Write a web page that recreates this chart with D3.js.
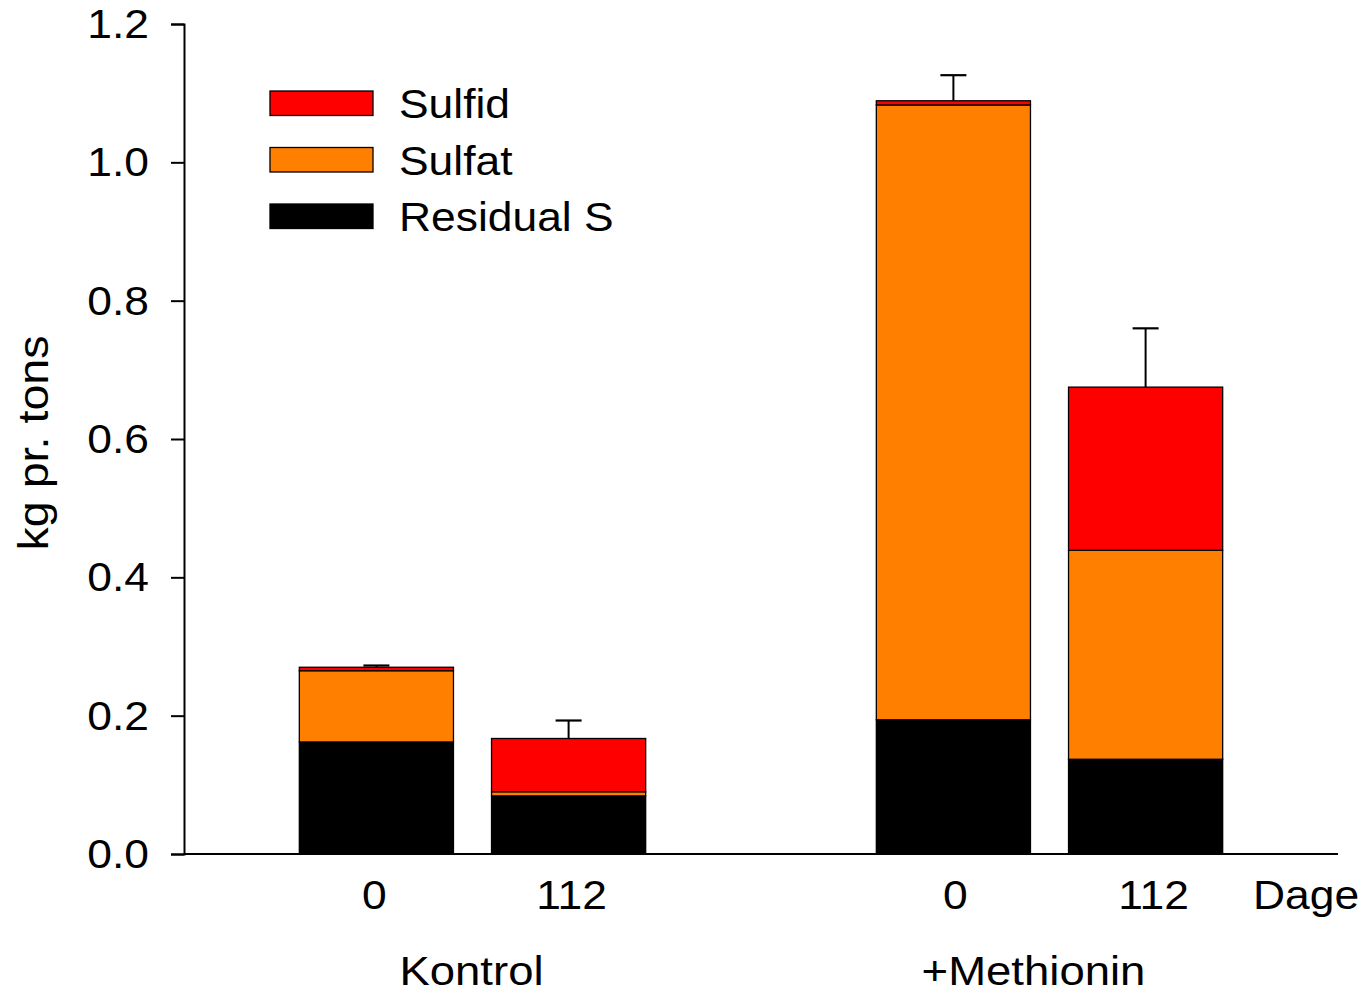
<!DOCTYPE html>
<html>
<head>
<meta charset="utf-8">
<script src="https://cdn.jsdelivr.net/npm/d3@7"></script>
<style>
  html, body { margin: 0; padding: 0; background: #fff; }
  svg { display: block; font-family: "Liberation Sans", Arial, sans-serif; }
</style>
</head>
<body>
<svg id="chart" width="1367" height="993"></svg>
<script>
// ---- data ----
const groups = ["Kontrol", "+Methionin"];
const days = ["0", "112"];
const seriesNames = ["Residual S", "Sulfat", "Sulfid"];
const seriesColors = ["#000000", "#ff8000", "#ff0000"];
// values per bar in order: Kontrol-0, Kontrol-112, Methionin-0, Methionin-112
const residualS = [0.162, 0.084, 0.194, 0.137];
const sulfat    = [0.103, 0.006, 0.889, 0.302];
const sulfid    = [0.005, 0.077, 0.006, 0.236];
const errUpper  = [0.0025, 0.026, 0.037, 0.085];
const yTicks = [0.0, 0.2, 0.4, 0.6, 0.8, 1.0, 1.2];
const legendOrder = ["Sulfid", "Sulfat", "Residual S"];

const bars = [];
groups.forEach((g, gi) => days.forEach((d, di) => {
  const i = gi * days.length + di;
  bars.push({group: g, day: d, vals: [residualS[i], sulfat[i], sulfid[i]], err: errUpper[i]});
}));

const svg = d3.select("#chart");
const x0 = 184, x1 = 1338, yTop = 24, yBot = 854;
const SX = 1.11; // horizontal stretch of the reference's lettering

function addText(x, y, str, size, anchor, rot) {
  return svg.append("text")
    .attr("transform", `translate(${x},${y})` + (rot ? ` rotate(${rot})` : "") + ` scale(${SX},1)`)
    .attr("font-size", size).attr("fill", "#000")
    .attr("text-anchor", anchor || "start")
    .text(str);
}

const y = d3.scaleLinear().domain([0, 1.2]).range([yBot, yTop]);
const xGroup = d3.scaleBand().domain(groups).range([x0, x1]).paddingInner(0).paddingOuter(0);
const xDay = d3.scaleBand().domain(days).range([0, xGroup.bandwidth()]).paddingInner(0.198).paddingOuter(0.6);

// bars
bars.forEach(b => {
  const bx = xGroup(b.group) + xDay(b.day);
  const bw = xDay.bandwidth();
  let cum = 0;
  b.vals.forEach((v, si) => {
    svg.append("rect")
      .attr("x", bx).attr("width", bw)
      .attr("y", y(cum + v)).attr("height", y(cum) - y(cum + v))
      .attr("fill", seriesColors[si])
      .attr("stroke", "#000").attr("stroke-width", 1.3);
    cum += v;
  });
  const cx = bx + bw / 2;
  svg.append("line").attr("x1", cx).attr("x2", cx)
    .attr("y1", y(cum)).attr("y2", y(cum + b.err))
    .attr("stroke", "#000").attr("stroke-width", 2);
  svg.append("line").attr("x1", cx - 13).attr("x2", cx + 13)
    .attr("y1", y(cum + b.err)).attr("y2", y(cum + b.err))
    .attr("stroke", "#000").attr("stroke-width", 2.2);
});

// y axis
const yAxis = d3.axisLeft(y).tickValues(yTicks).tickFormat("").tickSize(13);
const gy = svg.append("g").attr("transform", `translate(${x0},0)`).call(yAxis);
gy.select(".domain").attr("stroke", "#000").attr("stroke-width", 2);
gy.selectAll(".tick line").attr("stroke", "#000").attr("stroke-width", 2);
const fmt = d3.format(".1f");
yTicks.forEach(t => {
  addText(149, y(t) + 14, fmt(t), 40, "end");
});

// x axis line
svg.append("line").attr("x1", x0).attr("x2", x1).attr("y1", yBot).attr("y2", yBot)
  .attr("stroke", "#000").attr("stroke-width", 2);

// day labels (small per-label nudges as in the reference)
const dayNudge = [-2, 3, 2, 8];
bars.forEach((b, i) => {
  addText(xGroup(b.group) + xDay(b.day) + xDay.bandwidth() / 2 + dayNudge[i], 909, b.day, 40, "middle");
});
addText(1253, 909, "Dage", 40, "start");

// group labels
const groupOffset = {"Kontrol": -1, "+Methionin": -16};
groups.forEach(g => {
  addText(xGroup(g) + xGroup.bandwidth() / 2 + groupOffset[g], 985, g, 41, "middle");
});

// y axis title
addText(48, 443, "kg pr. tons", 42, "middle", -90);

// legend
const legColor = {"Sulfid": "#ff0000", "Sulfat": "#ff8000", "Residual S": "#000000"};
legendOrder.forEach((name, i) => {
  const ly = 91 + i * 56.5;
  svg.append("rect").attr("x", 270).attr("y", ly).attr("width", 103).attr("height", 24.5)
    .attr("fill", legColor[name]).attr("stroke", "#000").attr("stroke-width", 1.3);
  addText(399, ly + 27, name, 40, "start");
});
</script>
</body>
</html>
